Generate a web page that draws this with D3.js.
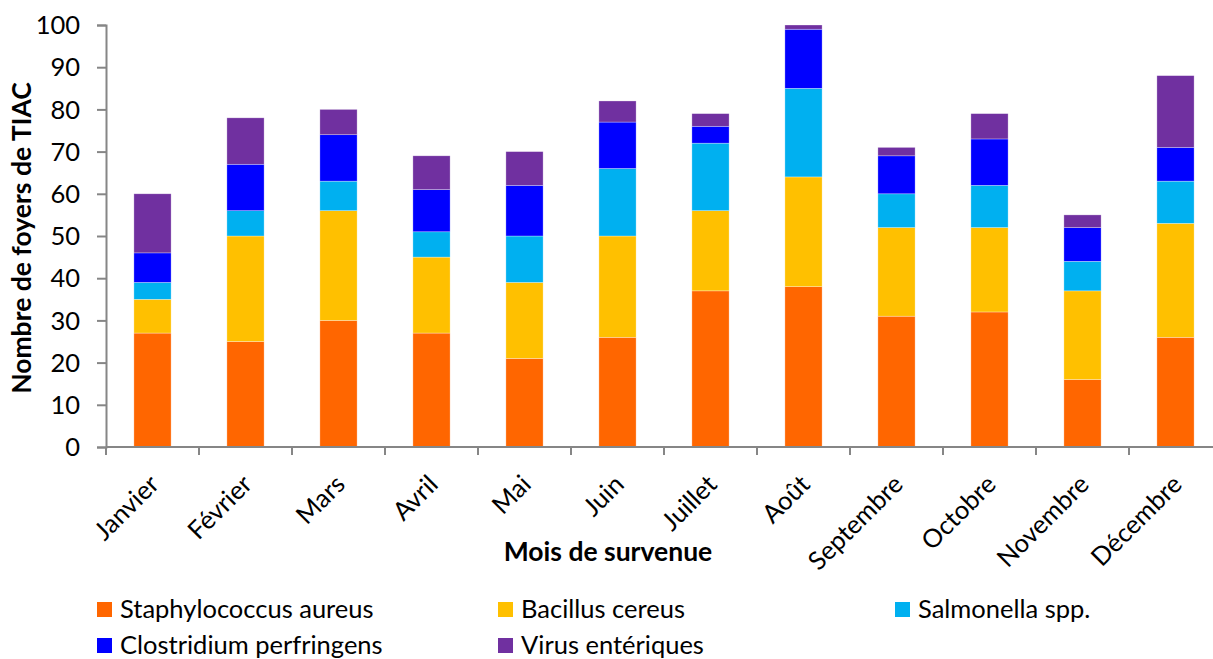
<!DOCTYPE html>
<html>
<head>
<meta charset="utf-8">
<script src="https://cdn.jsdelivr.net/npm/d3@7"></script>
<style>
  html, body { margin: 0; padding: 0; background: #fff; }
  svg { display: block; font-family: Lato, "Open Sans", sans-serif; }
</style>
</head>
<body>
<svg id="chart" width="1213" height="659"></svg>
<script>
const months = ["Janvier", "Février", "Mars", "Avril", "Mai", "Juin", "Juillet", "Août", "Septembre", "Octobre", "Novembre", "Décembre"];
const seriesNames = ["Staphylococcus aureus", "Bacillus cereus", "Salmonella spp.", "Clostridium perfringens", "Virus entériques"];
const seriesColors = ["#FF6600", "#FFC000", "#00B0F0", "#0000FF", "#7030A0"];
const staphylococcus = [27, 25, 30, 27, 21, 26, 37, 38, 31, 32, 16, 26];
const bacillus       = [ 8, 25, 26, 18, 18, 24, 19, 26, 21, 20, 21, 27];
const salmonella     = [ 4,  6,  7,  6, 11, 16, 16, 21,  8, 10,  7, 10];
const clostridium    = [ 7, 11, 11, 10, 12, 11,  4, 14,  9, 11,  8,  8];
const virus          = [14, 11,  6,  8,  8,  5,  3,  1,  2,  6,  3, 17];
const yTicks = [0, 10, 20, 30, 40, 50, 60, 70, 80, 90, 100];
const yTitle = "Nombre de foyers de TIAC";
const xTitle = "Mois de survenue";

const seriesValues = [staphylococcus, bacillus, salmonella, clostridium, virus];
const keys = seriesNames;
const table = months.map((m, i) => {
  const row = { month: m };
  keys.forEach((k, s) => row[k] = seriesValues[s][i]);
  return row;
});

const svg = d3.select("#chart");
const mLeft = 106, mRight = 1222, mTop = 25, mBottom = 447;
const x = d3.scaleBand().domain(months).range([mLeft, mRight]).paddingInner(0.6).paddingOuter(0.3);
const xb = d3.scaleBand().domain(months).range([mLeft, mRight]);
const y = d3.scaleLinear().domain([0, 100]).range([mBottom, mTop]);
const color = d3.scaleOrdinal().domain(keys).range(seriesColors);

const stacked = d3.stack().keys(keys)(table);

svg.append("g").selectAll("g").data(stacked).join("g")
  .attr("fill", d => color(d.key))
  .selectAll("rect").data(d => d).join("rect")
  .attr("x", d => x(d.data.month))
  .attr("width", x.bandwidth())
  .attr("y", d => y(d[1]))
  .attr("height", d => y(d[0]) - y(d[1]))
  .attr("stroke", "rgba(255,255,255,0.5)")
  .attr("stroke-width", 0.6);

const axisColor = "#868686";
const fs = 25.5;
// Y axis
const yAxis = svg.append("g").attr("transform", `translate(${mLeft},0)`)
  .call(d3.axisLeft(y).tickValues(yTicks).tickSize(9).tickPadding(17));
yAxis.select(".domain").attr("stroke", axisColor).attr("stroke-width", 2);
yAxis.selectAll(".tick line").attr("stroke", axisColor).attr("stroke-width", 2);
yAxis.selectAll(".tick text").attr("fill", "#000").attr("font-size", fs)
  .attr("font-family", "Lato, sans-serif").attr("dy", "0.34em");

// X axis
const xAxisG = svg.append("g").attr("transform", `translate(0,${mBottom})`);
xAxisG.append("line").attr("x1", mLeft).attr("x2", mRight).attr("y1", 0).attr("y2", 0)
  .attr("stroke", axisColor).attr("stroke-width", 2);
xAxisG.selectAll("line.tk").data(months.concat(["end"])).join("line").attr("class", "tk")
  .attr("x1", (d, i) => i < months.length ? xb(d) : mRight)
  .attr("x2", (d, i) => i < months.length ? xb(d) : mRight)
  .attr("y1", 0).attr("y2", 8)
  .attr("stroke", axisColor).attr("stroke-width", 2);
xAxisG.selectAll("text").data(months).join("text")
  .attr("transform", d => `translate(${xb(d) + xb.bandwidth() / 2 + 8},${39}) rotate(-45)`)
  .attr("text-anchor", "end")
  .attr("font-size", fs)
  .attr("fill", "#000")
  .text(d => d);

// Titles
svg.append("text")
  .attr("transform", `translate(31,${(mTop + mBottom) / 2 + 2}) rotate(-90)`)
  .attr("text-anchor", "middle").attr("font-weight", "bold").attr("font-size", 26.5)
  .text(yTitle);
svg.append("text")
  .attr("x", 608).attr("y", 561)
  .attr("text-anchor", "middle").attr("font-weight", "bold").attr("font-size", 26.5)
  .text(xTitle);

// Legend
const legendX = [97, 498, 895];
const legendY = [602, 638];
const lg = svg.append("g").selectAll("g").data(keys).join("g")
  .attr("transform", (d, i) => `translate(${legendX[i % 3]},${legendY[Math.floor(i / 3)]})`);
lg.append("rect").attr("width", 15).attr("height", 15).attr("fill", d => color(d));
lg.append("text").attr("x", 23).attr("y", 16).attr("font-size", fs).attr("fill", "#000").text(d => d);
</script>
</body>
</html>
